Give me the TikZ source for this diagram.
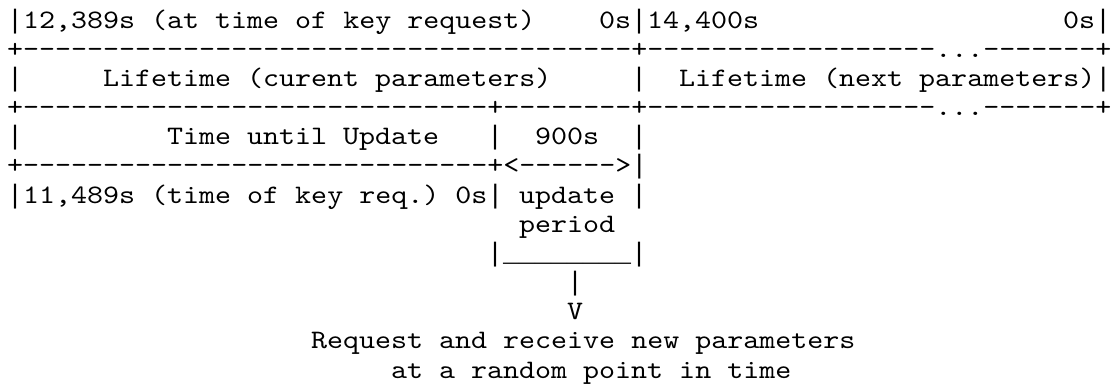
\documentclass[tikz,border=0pt]{standalone}
\usepackage{fontspec}
\setmonofont{lmmono10-regular.otf}[FakeStretch=1.143]
\newfontfamily\linefont{Liberation Mono}
\newcommand{\dashrun}[1]{\foreach \k in {1,...,#1}{-}}
\newcommand{\pipechar}{{\linefont|}}
\newcommand{\lowrun}[1]{{\linefont\foreach \k in {1,...,#1}{\_}}}
\tikzstyle{asciirow} = [anchor=base west, inner sep=0pt, text=black, font=\ttfamily\fontsize{26.67}{29.17}\selectfont]

\begin{document}
\begin{tikzpicture}[x=1pt, y=-1pt]
\useasboundingbox (0,0) rectangle (1111,383);
% seconds left in each lifetime
\node (curStart) [asciirow] at (7,28) {\pipechar12,389s (at time of key request)};
\node (curEnd) [asciirow] at (599,28) {0s\pipechar14,400s};
\node (nextEnd) [asciirow] at (1063,28) {0s\pipechar};
\node (topRule) [asciirow] at (7,57.17) {+\dashrun{38}+\dashrun{18}...\dashrun{7}+};
% lifetimes
\node (curBar) [asciirow] at (7,86.33) {\pipechar};
\node (curLabel) [asciirow] at (103,86.33) {Lifetime (curent parameters)};
\node (midBar) [asciirow] at (631,86.33) {\pipechar};
\node (nextLabel) [asciirow] at (679,86.33) {Lifetime (next parameters)\pipechar};
\node (midRule) [asciirow] at (7,115.5) {+\dashrun{29}+\dashrun{8}+\dashrun{18}...\dashrun{7}+};
% update window
\node (untilBar) [asciirow] at (7,144.67) {\pipechar};
\node (untilLabel) [asciirow] at (167,144.67) {Time until Update};
\node (periodBar) [asciirow] at (487,144.67) {\pipechar};
\node (periodLen) [asciirow] at (535,144.67) {900s};
\node (periodEnd) [asciirow] at (631,144.67) {\pipechar};
\node (arrowRule) [asciirow] at (7,173.83) {+\dashrun{29}+<\dashrun{6}>\pipechar};
\node (untilRange) [asciirow] at (7,203) {\pipechar11,489s (time of key req.) 0s\pipechar};
\node (updateLabel) [asciirow] at (519,203) {update};
\node (updateEnd) [asciirow] at (631,203) {\pipechar};
\node (periodLabel) [asciirow] at (519,232.17) {period};
\node (boxBottom) [asciirow] at (487,261.33) {\pipechar\lowrun{8}\pipechar};
% pointer to the note
\node (stem) [asciirow] at (567,290.5) {\pipechar};
\node (tip) [asciirow] at (567,319.67) {V};
\node (noteA) [asciirow] at (311,348.83) {Request and receive new parameters};
\node (noteB) [asciirow] at (391,378) {at a random point in time};
\end{tikzpicture}
\end{document}
